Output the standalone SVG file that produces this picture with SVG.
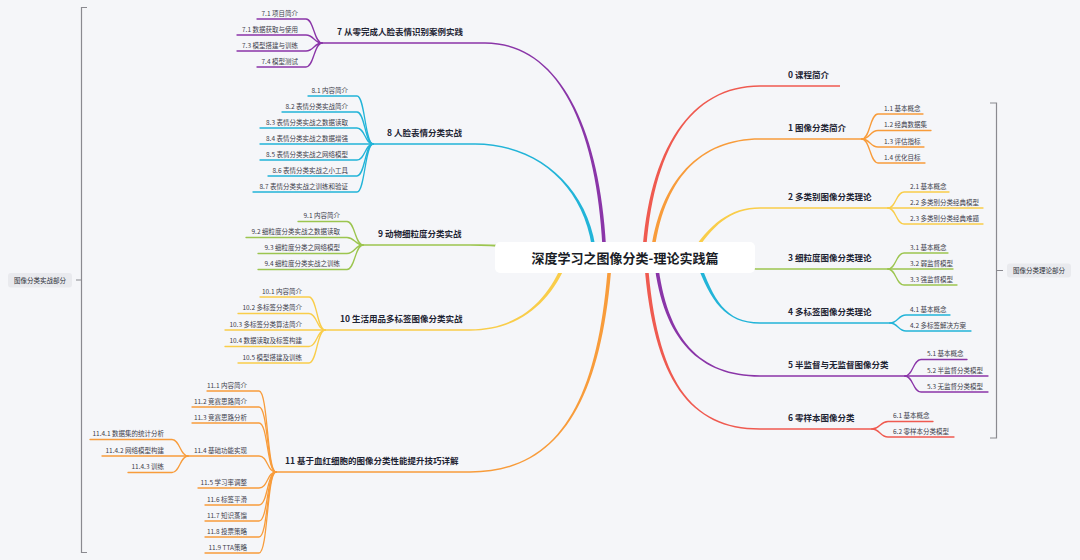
<svg xmlns="http://www.w3.org/2000/svg" width="1080" height="560" viewBox="0 0 1080 560">
<style>
text{font-family:"Noto Sans CJK SC","Noto Sans",sans-serif}
.t{font-size:8.5px;font-weight:700;fill:#1e2433}
.c{font-size:6.5px;fill:#3d404b}
.r{text-anchor:end}
.lbl{font-size:6.5px;fill:#2c2f38;text-anchor:middle}
.ch{fill:none;stroke-width:1.3;stroke-linecap:round}
.br{fill:none;stroke:#8a8a90;stroke-width:1.2}
.red{fill:#ef5a50}.org{fill:#f89c3b}.yel{fill:#f9cd4a}.grn{fill:#9cc54f}.cyn{fill:#22b4d8}.pur{fill:#8a35a8}
.sred{stroke:#ef5a50}.sorg{stroke:#f89c3b}.syel{stroke:#f9cd4a}.sgrn{stroke:#9cc54f}.scyn{stroke:#22b4d8}.spur{stroke:#8a35a8}
</style>
<rect width="1080" height="560" fill="#f5f6f9"/>

<g id="connectors">
<path class="red" d="M642.2,258 C648.2,150 690,85.25 760,85.25 L840,85.25 L840,86.75 L760,86.75 C690,86.75 651.8,150 645.8,258 Z"/>
<path class="org" d="M650.2,258 C658.2,180 700,138.25 760,138.25 L862,138.25 L862,139.75 L760,139.75 C700,139.75 661.8,180 653.8,258 Z"/>
<path class="yel" d="M688.5,257.1 C708.5,224.1 730,207.25 760,207.25 L888,207.25 L888,208.75 L760,208.75 C730,208.75 711.5,225.9 691.5,258.9 Z"/>
<path class="grn" d="M700,256.2 C730,260.2 740,268.25 760,268.25 L888,268.25 L888,269.75 L760,269.75 C740,269.75 730,263.8 700,259.8 Z"/>
<path class="cyn" d="M699.7,261.4 C713.7,299.4 725,322.25 760,322.25 L890,322.25 L890,323.75 L760,323.75 C725,323.75 710.3,300.6 696.3,262.6 Z"/>
<path class="pur" d="M657.8,261.8 C666.8,339.8 700,375.25 760,375.25 L905,375.25 L905,376.75 L760,376.75 C700,376.75 663.2,340.2 654.2,262.2 Z"/>
<path class="red" d="M647.8,262 C656.8,380 690,428.25 760,428.25 L872,428.25 L872,429.75 L760,429.75 C690,429.75 653.2,380 644.2,262 Z"/>
<path class="pur" d="M606.8,258 C601.8,130 560,42.25 485,42.25 L322,42.25 L322,43.75 L485,43.75 C560,43.75 598.2,130 603.2,258 Z"/>
<path class="cyn" d="M596.8,258 C591.8,190 540,143.25 475,143.25 L373,143.25 L373,144.75 L475,144.75 C540,144.75 588.2,190 593.2,258 Z"/>
<path class="grn" d="M560,252.2 C520,245.2 500,244.25 470,244.25 L363,244.25 L363,245.75 L470,245.75 C500,245.75 520,248.8 560,255.8 Z"/>
<path class="yel" d="M563.3,261.3 C548.3,299.3 520,329.25 470,329.25 L325,329.25 L325,330.75 L470,330.75 C520,330.75 551.7,300.7 566.7,262.7 Z"/>
<path class="org" d="M608.2,262 C598.2,400 560,471.25 470,471.25 L276,471.25 L276,472.75 L470,472.75 C560,472.75 601.8,400 611.8,262 Z"/>

<path class="ch sorg" d="M862,139 C870,139 870,114 878,114 L923,114"/>
<path class="ch sorg" d="M862,139 C870,139 870,130.5 878,130.5 L931,130.5"/>
<path class="ch sorg" d="M862,139 C870,139 870,147 878,147 L924,147"/>
<path class="ch sorg" d="M862,139 C870,139 870,163 878,163 L925,163"/>
<path class="ch syel" d="M888,208 C896,208 896,192 904,192 L949,192"/>
<path class="ch syel" d="M888,208 L983,208"/>
<path class="ch syel" d="M888,208 C896,208 896,224 904,224 L983,224"/>
<path class="ch sgrn" d="M888,269 C896,269 896,253 904,253 L948,253"/>
<path class="ch sgrn" d="M888,269 L953,269"/>
<path class="ch sgrn" d="M888,269 C896,269 896,285 904,285 L957,285"/>
<path class="ch scyn" d="M890,323 C898,323 898,315 906,315 L950,315"/>
<path class="ch scyn" d="M890,323 C898,323 898,331 906,331 L971,331"/>
<path class="ch spur" d="M905,376 C913,376 913,359.5 921,359.5 L967,359.5"/>
<path class="ch spur" d="M905,376 L988,376"/>
<path class="ch spur" d="M905,376 C913,376 913,392 921,392 L988,392"/>
<path class="ch sred" d="M872,429 C880,429 880,421.5 888,421.5 L933,421.5"/>
<path class="ch sred" d="M872,429 C880,429 880,437 888,437 L954,437"/>

<path class="ch spur" d="M322,43 C314,43 314,19 306,19 L257,19"/>
<path class="ch spur" d="M322,43 C314,43 314,35 306,35 L237,35"/>
<path class="ch spur" d="M322,43 C314,43 314,51 306,51 L237,51"/>
<path class="ch spur" d="M322,43 C314,43 314,67 306,67 L257,67"/>
<path class="ch scyn" d="M373,144 C365,144 365,96 357,96 L308,96"/>
<path class="ch scyn" d="M373,144 C365,144 365,112 357,112 L282,112"/>
<path class="ch scyn" d="M373,144 C365,144 365,128 357,128 L260,128"/>
<path class="ch scyn" d="M373,144 L260,144"/>
<path class="ch scyn" d="M373,144 C365,144 365,160 357,160 L260,160"/>
<path class="ch scyn" d="M373,144 C365,144 365,176 357,176 L268,176"/>
<path class="ch scyn" d="M373,144 C365,144 365,192 357,192 L253,192"/>
<path class="ch sgrn" d="M363,245 C355,245 355,221.5 347,221.5 L298,221.5"/>
<path class="ch sgrn" d="M363,245 C355,245 355,237.5 347,237.5 L246,237.5"/>
<path class="ch sgrn" d="M363,245 C355,245 355,253.5 347,253.5 L258,253.5"/>
<path class="ch sgrn" d="M363,245 C355,245 355,269.5 347,269.5 L258,269.5"/>
<path class="ch syel" d="M325,330 C317,330 317,297 309,297 L260,297"/>
<path class="ch syel" d="M325,330 C317,330 317,313.5 309,313.5 L238,313.5"/>
<path class="ch syel" d="M325,330 L225,330"/>
<path class="ch syel" d="M325,330 C317,330 317,346.5 309,346.5 L225,346.5"/>
<path class="ch syel" d="M325,330 C317,330 317,363 309,363 L238,363"/>
<path class="ch sorg" d="M276,472 C267,472 268,391 259,391 L207,391"/>
<path class="ch sorg" d="M276,472 C267,472 268,407 259,407 L192,407"/>
<path class="ch sorg" d="M276,472 C267,472 268,423 259,423 L192,423"/>
<path class="ch sorg" d="M276,472 C267,472 268,456 259,456 L188,456"/>
<path class="ch sorg" d="M276,472 C267,472 268,488 259,488 L198,488"/>
<path class="ch sorg" d="M276,472 C267,472 268,505 259,505 L205,505"/>
<path class="ch sorg" d="M276,472 C267,472 268,521 259,521 L205,521"/>
<path class="ch sorg" d="M276,472 C267,472 268,537 259,537 L205,537"/>
<path class="ch sorg" d="M276,472 C267,472 268,553 259,553 L205,553"/>
<path class="ch sorg" d="M188,456 C180,456 180,439.5 172,439.5 L90,439.5"/>
<path class="ch sorg" d="M188,456 L102,456"/>
<path class="ch sorg" d="M188,456 C180,456 180,472.5 172,472.5 L128,472.5"/>
</g>

<g id="boundaries">
<path class="br" d="M87,7.5 H81.5 V552.5 H87 M81.5,280 H76"/>
<path class="br" d="M990,103 H996.5 V438 H990 M996.5,270.5 H1003"/>
</g>

<g id="root">
<rect x="495" y="242" width="260" height="31" rx="5" fill="#ffffff"/>
<text x="625" y="262.5" text-anchor="middle" style="font-size:13px;font-weight:700;fill:#1a1d26">深度学习之图像分类-理论实践篇</text>
</g>

<g id="summary-left">
<rect x="8" y="273" width="64" height="14.5" rx="3" fill="#e9eaee"/>
<text class="lbl" x="40" y="282.6">图像分类实战部分</text>
</g>
<g id="summary-right">
<rect x="1007" y="263.5" width="64" height="14" rx="3" fill="#e9eaee"/>
<text class="lbl" x="1039" y="272.8">图像分类理论部分</text>
</g>

<g id="n0"><text class="t" x="788" y="78">0 课程简介</text></g>
<g id="n1"><text class="t" x="788" y="131">1 图像分类简介</text>
<text class="c" x="884" y="110.5">1.1 基本概念</text>
<text class="c" x="884" y="127">1.2 经典数据集</text>
<text class="c" x="884" y="143.5">1.3 评估指标</text>
<text class="c" x="884" y="159.5">1.4 优化目标</text></g>
<g id="n2"><text class="t" x="788" y="200">2 多类别图像分类理论</text>
<text class="c" x="910" y="188.5">2.1 基本概念</text>
<text class="c" x="910" y="204.5">2.2 多类别分类经典模型</text>
<text class="c" x="910" y="220.5">2.3 多类别分类经典难题</text></g>
<g id="n3"><text class="t" x="788" y="261">3 细粒度图像分类理论</text>
<text class="c" x="910" y="249.5">3.1 基本概念</text>
<text class="c" x="910" y="265.5">3.2 弱监督模型</text>
<text class="c" x="910" y="281.5">3.3 强监督模型</text></g>
<g id="n4"><text class="t" x="788" y="315">4 多标签图像分类理论</text>
<text class="c" x="910" y="311.5">4.1 基本概念</text>
<text class="c" x="910" y="327.5">4.2 多标签解决方案</text></g>
<g id="n5"><text class="t" x="788" y="368">5 半监督与无监督图像分类</text>
<text class="c" x="927" y="356">5.1 基本概念</text>
<text class="c" x="927" y="372.5">5.2 半监督分类模型</text>
<text class="c" x="927" y="388.5">5.3 无监督分类模型</text></g>
<g id="n6"><text class="t" x="788" y="421">6 零样本图像分类</text>
<text class="c" x="893" y="418">6.1 基本概念</text>
<text class="c" x="893" y="433.5">6.2 零样本分类模型</text></g>

<g id="n7"><text class="t" x="337" y="35">7 从零完成人脸表情识别案例实践</text>
<text class="c r" x="298" y="15.5">7.1 项目简介</text>
<text class="c r" x="298" y="31.5">7.1 数据获取与使用</text>
<text class="c r" x="298" y="47.5">7.3 模型搭建与训练</text>
<text class="c r" x="298" y="63.5">7.4 模型测试</text></g>
<g id="n8"><text class="t" x="387" y="136">8 人脸表情分类实战</text>
<text class="c r" x="348" y="92.5">8.1 内容简介</text>
<text class="c r" x="348" y="108.5">8.2 表情分类实战简介</text>
<text class="c r" x="348" y="124.5">8.3 表情分类实战之数据读取</text>
<text class="c r" x="348" y="140.5">8.4 表情分类实战之数据增强</text>
<text class="c r" x="348" y="156.5">8.5 表情分类实战之网络模型</text>
<text class="c r" x="348" y="172.5">8.6 表情分类实战之小工具</text>
<text class="c r" x="348" y="188.5">8.7 表情分类实战之训练和验证</text></g>
<g id="n9"><text class="t" x="378" y="237">9 动物细粒度分类实战</text>
<text class="c r" x="340" y="218">9.1 内容简介</text>
<text class="c r" x="340" y="234">9.2 细粒度分类实战之数据读取</text>
<text class="c r" x="340" y="250">9.3 细粒度分类之网络模型</text>
<text class="c r" x="340" y="266">9.4 细粒度分类实战之训练</text></g>
<g id="n10"><text class="t" x="340" y="322">10 生活用品多标签图像分类实战</text>
<text class="c r" x="302" y="293.5">10.1 内容简介</text>
<text class="c r" x="302" y="310">10.2 多标签分类简介</text>
<text class="c r" x="302" y="326.5">10.3 多标签分类算法简介</text>
<text class="c r" x="302" y="343">10.4 数据读取及标签构建</text>
<text class="c r" x="302" y="359.5">10.5 模型搭建及训练</text></g>
<g id="n11"><text class="t" x="285" y="464">11 基于血红细胞的图像分类性能提升技巧详解</text>
<text class="c r" x="247" y="387.5">11.1 内容简介</text>
<text class="c r" x="247" y="403.5">11.2 竞赛思路简介</text>
<text class="c r" x="247" y="419.5">11.3 竞赛思路分析</text>
<text class="c r" x="247" y="452.5">11.4 基础功能实现</text>
<text class="c r" x="247" y="484.5">11.5 学习率调整</text>
<text class="c r" x="247" y="501.5">11.6 标签平滑</text>
<text class="c r" x="247" y="517.5">11.7 知识蒸馏</text>
<text class="c r" x="247" y="533.5">11.8 投票策略</text>
<text class="c r" x="247" y="549.5">11.9 TTA策略</text></g>
<g id="n11-4"><text class="c r" x="164" y="436">11.4.1 数据集的统计分析</text>
<text class="c r" x="164" y="452.5">11.4.2 网络模型构建</text>
<text class="c r" x="164" y="469">11.4.3 训练</text></g>
</svg>
